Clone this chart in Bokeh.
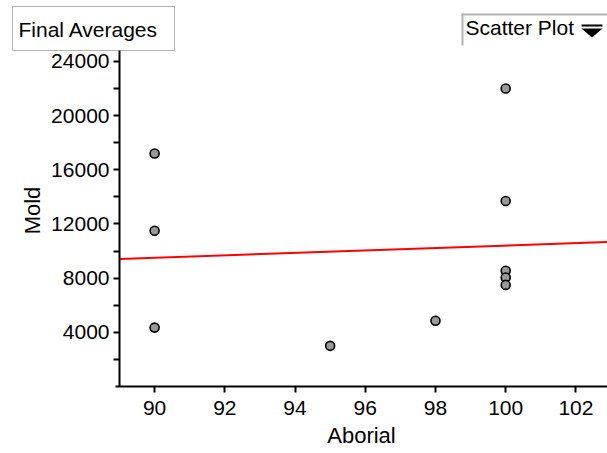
import numpy as np
from bokeh.plotting import figure
from bokeh.models import Range1d, Label, BoxAnnotation, PolyAnnotation, FixedTicker
from bokeh.embed import file_html
from bokeh.resources import INLINE

# Data
aborial = [90, 90, 90, 95, 98, 100, 100, 100, 100, 100]
mold = [17200, 11500, 4350, 3000, 4850, 22000, 13700, 8550, 8050, 7500]
x_ticks = [90, 92, 94, 96, 98, 100, 102]
y_ticks = [4000, 8000, 12000, 16000, 20000, 24000]
y_minor = [2000, 6000, 10000, 14000, 18000, 22000]
x_title = "Aborial"
y_title = "Mold"
box_title = "Final Averages"
menu_title = "Scatter Plot"

# axis extents
X0, X1 = 89.0, 102.9
Y0, Y1 = 0, 28500

# layout: plotting area inside the canvas (pixels)
W, H = 607, 453
AX_LEFT, AX_BOTTOM = 119, 386
sx = (W - AX_LEFT) / (X1 - X0)
sy = AX_BOTTOM / (Y1 - Y0)
xr = Range1d(X0 - AX_LEFT / sx, X1)
yr = Range1d(Y0 - (H - AX_BOTTOM) / sy, Y1)

FONT = "Liberation Sans"
FS = "21px"
FS_TITLE = "22px"

p = figure(width=W, height=H, output_backend="svg", toolbar_location=None,
           x_range=xr, y_range=yr,
           min_border=0, frame_width=W, frame_height=H)
p.outline_line_color = None
p.grid.visible = False
p.background_fill_color = "white"
p.border_fill_color = "white"

for ax in (p.xaxis[0], p.yaxis[0]):
    ax.axis_line_width = 2
    ax.major_tick_line_width = 2
    ax.minor_tick_line_width = 2
    ax.major_tick_in = 0
    ax.major_tick_out = 6
    ax.minor_tick_in = 0
    ax.minor_tick_out = 6
    ax.major_label_text_font = FONT
    ax.major_label_text_font_size = FS
    ax.major_label_text_color = "black"
    ax.axis_label_text_font = FONT
    ax.axis_label_text_font_size = FS_TITLE
    ax.axis_label_text_font_style = "normal"
    ax.axis_label_text_color = "black"

p.xaxis.fixed_location = Y0
p.yaxis.fixed_location = X0
p.xaxis.bounds = (X0 - 4 / sx, X1)
p.yaxis.bounds = (Y0, 26000)
p.xaxis.ticker = FixedTicker(ticks=x_ticks)
p.yaxis.ticker = FixedTicker(ticks=y_ticks, minor_ticks=y_minor)
p.xaxis.axis_label = x_title
p.yaxis.axis_label = y_title
p.xaxis.major_label_standoff = 8
p.xaxis.axis_label_standoff = 5
p.yaxis.major_label_standoff = 4
p.yaxis.axis_label_standoff = 3

# regression line fitted to the points
slope, intercept = np.polyfit(aborial, mold, 1)
lx = [X0, X1]
ly = [intercept + slope * v for v in lx]
p.line(lx, ly, line_color="red", line_width=2)

p.scatter(aborial, mold, size=9, fill_color="#999999", line_color="black", line_width=1.6)

def cbox(l, r, t, b, **kw):
    return BoxAnnotation(left=l, right=r, top=t, bottom=b,
                         left_units="canvas", right_units="canvas",
                         top_units="canvas", bottom_units="canvas", **kw)

# "Final Averages" box
p.add_layout(cbox(12, 174, 6, 50, fill_color="white", fill_alpha=1, line_color="black",
                  line_width=1, level="overlay"))
p.add_layout(Label(x=18, y=29, x_units="canvas", y_units="canvas", text=box_title,
                   text_font=FONT, text_font_size=FS, text_color="black",
                   text_baseline="middle", text_align="left", level="overlay"))

# "Scatter Plot" menu
p.add_layout(cbox(461, 607, 13, 15, fill_color="#b4b4b4", fill_alpha=1, line_color=None))
p.add_layout(cbox(461, 463, 13, 45, fill_color="#b4b4b4", fill_alpha=1, line_color=None))
p.add_layout(Label(x=465, y=27, x_units="canvas", y_units="canvas", text=menu_title,
                   text_font=FONT, text_font_size=FS, text_color="black",
                   text_baseline="middle", text_align="left"))
p.add_layout(cbox(581, 602, 24, 26, fill_color="black", fill_alpha=1, line_color=None))
p.add_layout(PolyAnnotation(xs=[581, 602, 591.5], ys=[28, 28, 37],
                            xs_units="canvas", ys_units="canvas",
                            fill_color="black", fill_alpha=1, line_color=None))

open("out.html", "w").write(file_html(p, INLINE))
